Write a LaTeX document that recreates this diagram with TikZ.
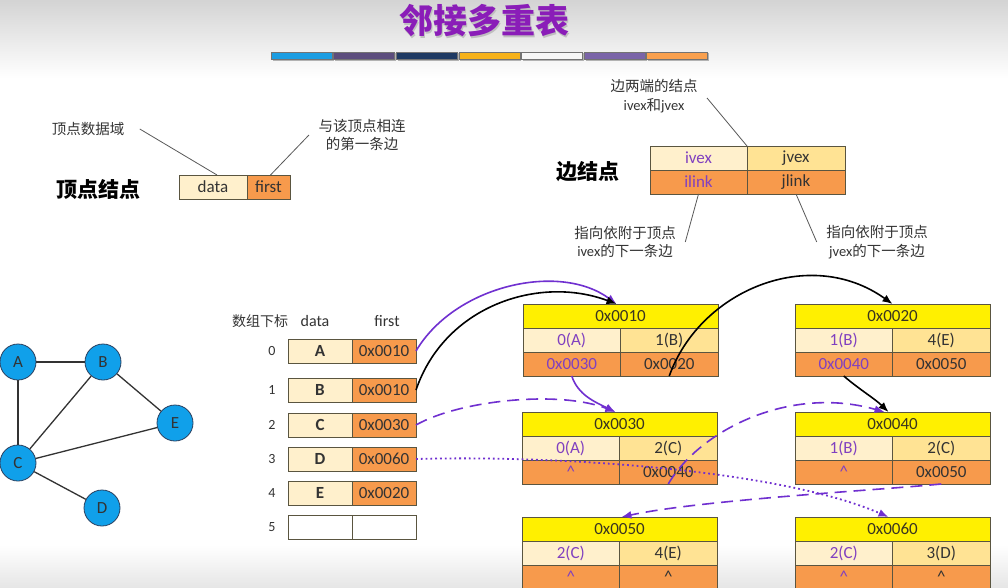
\documentclass[tikz,border=0pt]{standalone}
\usepackage{fontspec}
\setmainfont{Carlito}
\newfontfamily\cjk{Noto Sans CJK SC}
\usetikzlibrary{arrows.meta}

\definecolor{titlevio}{HTML}{8A1DB8}
\definecolor{boxline}{HTML}{5A5540}
\definecolor{hdryellow}{HTML}{FFF000}
\definecolor{hdrtext}{HTML}{3A3520}
\definecolor{cream}{HTML}{FFF0CC}
\definecolor{amberlt}{HTML}{FFE394}
\definecolor{orng}{HTML}{F79A4C}
\definecolor{textdark}{HTML}{333333}
\definecolor{vio}{HTML}{8040C0}
\definecolor{ptrvio}{HTML}{7030D0}
\definecolor{vtxblue}{HTML}{10A0EA}
\definecolor{vtxline}{HTML}{2A4060}
\definecolor{barA}{HTML}{1B9DE2}
\definecolor{barB}{HTML}{5C4D7D}
\definecolor{barC}{HTML}{1F3A63}
\definecolor{barD}{HTML}{F7B21A}
\definecolor{barE}{HTML}{F7F7F7}
\definecolor{barF}{HTML}{7A64A8}
\definecolor{barG}{HTML}{F9A04E}

\tikzset{
  cellbase/.style={draw=boxline, line width=0.8pt, inner sep=0pt, outer sep=0pt,
    minimum height=24pt, anchor=north west, font=\fontsize{17}{17}\selectfont},
  hdr/.style={cellbase, fill=hdryellow, text=hdrtext, minimum width=195pt},
  ivc/.style={cellbase, fill=cream, text=vio, minimum width=97.5pt},
  jvc/.style={cellbase, fill=amberlt, text=textdark, minimum width=97.5pt},
  ilc/.style={cellbase, fill=orng, text=vio, minimum width=97.5pt},
  jlc/.style={cellbase, fill=orng, text=textdark, minimum width=97.5pt},
  datacell/.style={cellbase, fill=cream, text=textdark, minimum width=64pt,
    font=\fontsize{17}{17}\selectfont\bfseries},
  firstcell/.style={cellbase, fill=orng, text=textdark, minimum width=64pt},
  idx/.style={font=\fontsize{14}{14}\selectfont, text=textdark},
  colhead/.style={font=\fontsize{16}{16}\selectfont, text=textdark},
  vtx/.style={circle, draw=vtxline, line width=0.8pt, fill=vtxblue, minimum size=36pt,
    inner sep=0pt, font=\fontsize{17}{17}\selectfont, text=textdark},
  gedge/.style={draw=black!80, line width=1.3pt},
  lbl/.style={font=\fontsize{14.5}{18.5}\selectfont, text=textdark, align=center},
  bigbold/.style={font=\fontsize{21}{21}\selectfont\cjk\bfseries, text=black},
  leader/.style={draw=black!65, line width=0.8pt},
  ptr/.style={line width=1.6pt, -{Latex[length=10pt,width=8pt]}},
  vptr/.style={ptr, draw=ptrvio},
  bptr/.style={ptr, draw=black},
  vdash/.style={vptr, dash pattern=on 12pt off 7pt},
  vdot/.style={vptr, line width=1.8pt, dash pattern=on 1.8pt off 3pt},
}

% one edge record: address header, ivex | jvex, ilink | jlink
\newcommand\edgebox[7]{%
  \node[hdr] (#1-h) at #2 {#3};
  \node[ivc] (#1-iv) at (#1-h.south west) {#4};
  \node[jvc] (#1-jv) at (#1-iv.north east) {#5};
  \node[ilc] (#1-il) at (#1-iv.south west) {#6};
  \node[jlc] (#1-jl) at (#1-il.north east) {#7};
}

\begin{document}
\begin{tikzpicture}[x=1pt,y=-1pt]
\useasboundingbox (0,0) rectangle (1008,588);
\clip (0,0) rectangle (1008,588);

% page background
\fill[white] (0,0) rectangle (1008,588);
\fill[top color=black!17, bottom color=white] (0,0) rectangle (1008,78);
\fill[top color=white, bottom color=black!10] (0,545) rectangle (1008,588);

% title and colour strip
\node[font=\fontsize{34}{34}\selectfont\cjk\bfseries, text=black!25] (tshadow) at (485.5,22.5) {邻接多重表};
\node[font=\fontsize{34}{34}\selectfont\cjk\bfseries, text=titlevio] (title) at (484,21) {邻接多重表};
\foreach \c [count=\i from 0] in {barA,barB,barC,barD,barE,barF,barG} {
  \fill[black!30] (272.5+\i*62.6, 53.5) rectangle ++(61,8);
  \filldraw[fill=\c, draw=black!55, line width=0.6pt] (271+\i*62.6, 52) rectangle ++(61,7.5);
}

% vertex record
\node[bigbold] (vtitle) at (98,189) {顶点结点};
\node[cellbase, fill=cream, text=textdark, minimum width=68pt] (vd) at (179,175) {data};
\node[cellbase, fill=orng, text=textdark, minimum width=43pt] (vf) at (vd.north east) {first};
\node[lbl] (lvd) at (88,129) {\cjk 顶点数据域};
\node[lbl] (lvf) at (362,135) {\cjk 与该顶点相连\\\cjk 的第一条边};
\draw[leader] ([xshift=12]lvd.east) -- ([xshift=4]vd.north);
\draw[leader] ([xshift=-6]lvf.west) -- ([xshift=2]vf.north);

% edge record
\node[bigbold] (etitle) at (588,172) {边结点};
\node[ivc, minimum width=97pt] (eiv) at (650,146) {ivex};
\node[jvc, minimum width=98pt] (ejv) at (eiv.north east) {jvex};
\node[ilc, minimum width=97pt] (eil) at (eiv.south west) {ilink};
\node[jlc, minimum width=98pt] (ejl) at (eil.north east) {jlink};
\node[lbl] (lends) at (654,96) {\cjk 边两端的结点\\ivex{\cjk 和}jvex};
\node[lbl] (lil) at (625,242) {\cjk 指向依附于顶点\\ivex{\cjk 的下一条边}};
\node[lbl] (ljl) at (877,242) {\cjk 指向依附于顶点\\jvex{\cjk 的下一条边}};
\draw[leader] ([xshift=6,yshift=-2]lends.east) -- (eiv.north east);
\draw[leader] (eil.south) -- ([xshift=6]lil.east);
\draw[leader] (ejl.south) -- ([xshift=-6]ljl.west);

% undirected graph
\node[vtx] (A) at (18,362) {A};
\node[vtx] (B) at (103,362) {B};
\node[vtx] (E) at (175,423) {E};
\node[vtx] (C) at (18,463) {C};
\node[vtx] (D) at (102,508) {D};
\draw[gedge] (A) -- (B);
\draw[gedge] (A) -- (C);
\draw[gedge] (B) -- (C);
\draw[gedge] (B) -- (E);
\draw[gedge] (C) -- (E);
\draw[gedge] (C) -- (D);

% vertex array
\node[font=\fontsize{14}{14}\selectfont\cjk, text=textdark] (hidx) at (260,321) {数组下标};
\node[colhead] (hdata) at (315,321) {data};
\node[colhead] (hfirst) at (387,321) {first};
\foreach \r/\yy/\d/\f in {0/339/A/0x0010, 1/378/B/0x0010, 2/413/C/0x0030,
                         3/447/D/0x0060, 4/481/E/0x0020} {
  \node[idx] (i\r) at (272,\yy+12) {\r};
  \node[datacell] (a\r d) at (288,\yy) {\d};
  \node[firstcell] (a\r f) at (a\r d.north east) {\f};
}
\node[idx] (i5) at (272,527) {5};
\node[datacell, fill=white] (a5d) at (288,515) {};
\node[firstcell, fill=white] (a5f) at (a5d.north east) {};

% edge records
\edgebox{e10}{(523,304)}{0x0010}{0(A)}{1(B)}{0x0030}{0x0020}
\edgebox{e20}{(795,304)}{0x0020}{1(B)}{4(E)}{0x0040}{0x0050}
\edgebox{e30}{(522,412)}{0x0030}{0(A)}{2(C)}{\textasciicircum}{0x0040}
\edgebox{e40}{(795,412)}{0x0040}{1(B)}{2(C)}{\textasciicircum}{0x0050}
\edgebox{e50}{(522,517)}{0x0050}{2(C)}{4(E)}{\textasciicircum}{\textasciicircum}
\edgebox{e60}{(795,517)}{0x0060}{2(C)}{3(D)}{\textasciicircum}{\textasciicircum}

% pointers
\draw[vptr] (a0f.east) .. controls (455,285) and (560,262) .. ([xshift=-4]e10-h.north);
\draw[bptr] (a1f.east) .. controls (445,305) and (540,275) .. ([xshift=-4]e10-h.north);
\draw[bptr] (e10-jl.south) .. controls (700,290) and (810,245) .. (e20-h.north);
\draw[vptr] (e10-il.south) .. controls (578,395) and (595,402) .. ([xshift=-4]e30-h.north);
\draw[bptr] (e20-il.south) .. controls (860,390) and (874,398) .. ([xshift=-4]e40-h.north);
\draw[vdash] (a2f.east) .. controls (460,400) and (560,390) .. ([xshift=-4]e30-h.north);
\draw[vdash] (e30-jl.south) .. controls (700,430) and (790,385) .. ([xshift=-8]e40-h.north);
\draw[vdot] (a3f.east) .. controls (560,455) and (780,470) .. ([xshift=-4]e60-h.north);
\draw[vdash] (e40-jl.south) .. controls (880,490) and (700,500) .. ([xshift=2]e50-h.north);
\end{tikzpicture}
\end{document}
